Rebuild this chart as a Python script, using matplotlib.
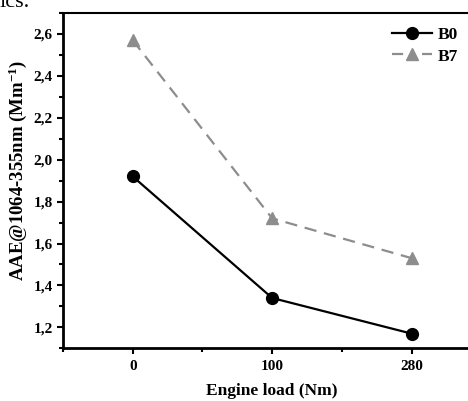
import numpy as np
import matplotlib.pyplot as plt
from matplotlib.ticker import MultipleLocator, FuncFormatter
from matplotlib.lines import Line2D

plt.rcParams['font.family'] = ['Liberation Serif', 'DejaVu Serif']
plt.rcParams['font.weight'] = 'bold'
plt.rcParams['mathtext.fontset'] = 'custom'
plt.rcParams['mathtext.rm'] = 'Liberation Serif:bold'
plt.rcParams['mathtext.bf'] = 'Liberation Serif:bold'
plt.rcParams['mathtext.default'] = 'bf'

# Data
loads = ["0", "100", "280"]
b0 = [1.92, 1.34, 1.17]
b7 = [2.57, 1.72, 1.53]

x = np.arange(len(loads))
grey = '#8d8d8d'

fig = plt.figure(figsize=(4.68, 4.01), dpi=100)
ax = fig.add_axes([0.1346, 0.1314, 0.894, 0.8362])

ax.plot(x, b0, color='black', lw=1.6, marker='o', ms=8.5, label='B0')
ax.plot(x, b7, color=grey, lw=1.6, ls=(0, (5.5, 3.5)), marker='^', ms=9, label='B7')

ax.set_xlim(-0.5, 2.5)
ax.set_ylim(1.1, 2.7)
ax.set_xticks(x)
ax.set_xticklabels(loads)
ax.set_xticks([-0.5, 0.5, 1.5], minor=True)
ax.yaxis.set_major_locator(MultipleLocator(0.2))
ax.yaxis.set_minor_locator(MultipleLocator(0.1))
ax.yaxis.set_major_formatter(FuncFormatter(lambda v, p: f"{v:.1f}".replace('.', ',')))

ax.tick_params(which='major', direction='out', length=4.5, width=1.5, labelsize=11)
ax.tick_params(which='minor', direction='out', length=3, width=1.5)
ax.tick_params(axis='x', pad=4)
ax.tick_params(axis='y', pad=3)

ax.spines['left'].set_linewidth(2)
ax.spines['bottom'].set_linewidth(2)
ax.spines['top'].set_linewidth(1.5)
ax.spines['right'].set_visible(False)

ax.set_xlabel("Engine load (Nm)", fontsize=12.5, fontweight='bold', labelpad=7)
ax.set_ylabel("AAE@1064-355nm (Mm$^{-1}$)", fontsize=13.5, fontweight='bold')
ax.yaxis.set_label_coords(-0.082, 0.531)

handles = [Line2D([], [], color='black', lw=1.6, marker='o', ms=8.5),
           Line2D([], [], color=grey, lw=1.6, ls=(0, (5.0, 8.5)), marker='^', ms=9)]
fig.legend(handles, ["B0", "B7"], loc='upper left', bbox_to_anchor=(392 / 468, 1 - 27 / 401),
           frameon=False, fontsize=12.5, handlelength=2.3, handletextpad=0.35,
           labelspacing=0.3, borderpad=0, borderaxespad=0)

fig.text(0.0, 1 - 7 / 401, "ics.", fontsize=16, fontweight='normal', va='baseline', ha='left')

fig.savefig("out.png", dpi=100)
